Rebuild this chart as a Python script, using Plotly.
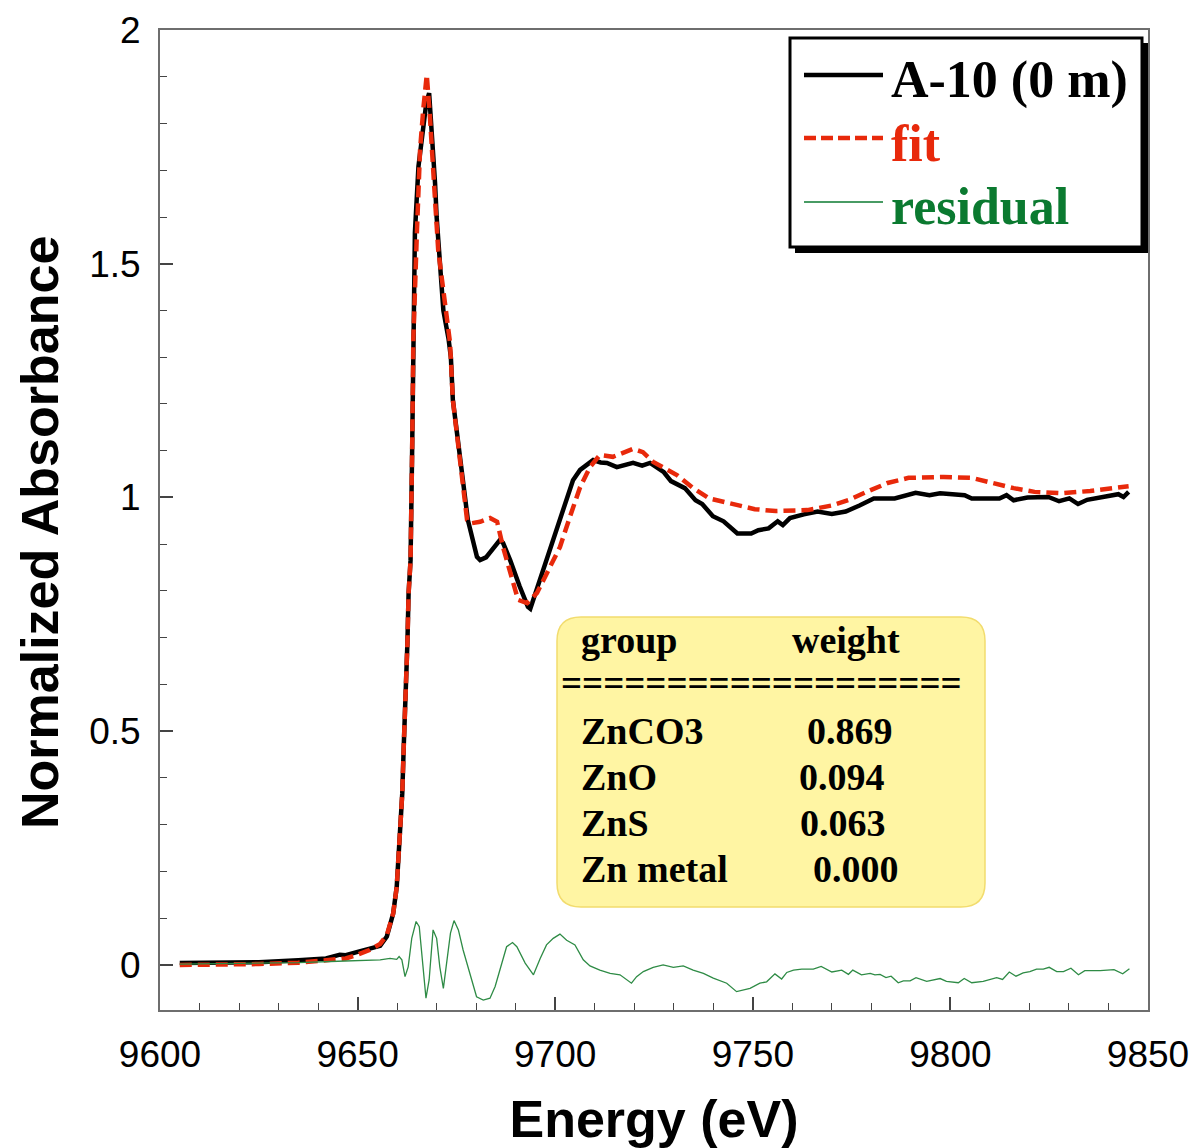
import plotly.graph_objects as go

# ---------------- data ----------------
data_energy = [9605, 9615, 9625, 9635, 9642, 9645.5, 9647, 9650, 9653, 9655.7, 9657.4, 9659,
               9659.9, 9660.3, 9660.9, 9661.3, 9661.7, 9662.2, 9662.6, 9662.9, 9663.4, 9663.8,
               9664.1, 9664.5, 9665.4, 9666.6, 9667.4, 9668.1, 9668.7, 9669.6, 9670.0, 9670.9,
               9671.7, 9673.0, 9673.6, 9674.1, 9676.0, 9677.9, 9680.2, 9681.0, 9682.5, 9684.3,
               9686.0, 9686.8, 9688.6, 9691.0, 9693.1, 9693.7, 9694.4, 9696.2, 9698.7, 9701.2,
               9702.8, 9704.5, 9706.3, 9709.6, 9711.5, 9713.1, 9715.6, 9717.5, 9719.7, 9722.0,
               9724.0, 9727.5, 9729.3, 9732.8, 9735.5, 9737.2, 9739.9, 9742.6, 9746.1, 9749.6,
               9751.4, 9754.0, 9756.3, 9757.6, 9759.4, 9762.9, 9766.4, 9770.0, 9773.5, 9777.0,
               9780.6, 9785.9, 9791.2, 9794.7, 9797.4, 9803.6, 9805.4, 9812.4, 9814.2, 9816.0,
               9819.5, 9824.8, 9827.5, 9830.1, 9832.3, 9834.6, 9842.5, 9843.8, 9845.1]
data_abs = [0.004, 0.004, 0.006, 0.010, 0.014, 0.022, 0.021, 0.028, 0.036, 0.041, 0.061, 0.110,
            0.167, 0.225, 0.296, 0.367, 0.474, 0.581, 0.688, 0.795, 0.866, 1.100,
            1.352, 1.566, 1.708, 1.800, 1.845, 1.865, 1.793, 1.672, 1.600, 1.494,
            1.400, 1.340, 1.300, 1.209, 1.080, 0.952, 0.873, 0.866, 0.872, 0.892,
            0.909, 0.903, 0.866, 0.810, 0.766, 0.762, 0.780, 0.824, 0.888, 0.952,
            0.990, 1.037, 1.059, 1.080, 1.075, 1.074, 1.065, 1.070, 1.074, 1.068,
            1.074, 1.054, 1.035, 1.020, 0.994, 0.986, 0.960, 0.949, 0.923, 0.923,
            0.930, 0.934, 0.949, 0.941, 0.956, 0.964, 0.970, 0.965, 0.970, 0.983,
            0.998, 0.998, 1.010, 1.005, 1.009, 1.005, 0.998, 0.998, 1.005, 0.994,
            1.000, 1.001, 0.992, 0.998, 0.986, 0.995, 1.007, 1.001, 1.012]

fit_energy = [9605, 9615, 9625, 9635, 9642, 9647, 9650, 9653, 9655.7, 9657.4, 9659, 9659.9,
              9660.3, 9660.9, 9661.3, 9661.7, 9662.2, 9662.6, 9662.9, 9663.4, 9663.8, 9664.1,
              9665.0, 9665.8, 9666.6, 9667.5, 9668.3, 9669.2, 9669.6, 9670.4, 9672.1, 9673.4,
              9674.1, 9677.7, 9678.9, 9681.0, 9683.5, 9685.3, 9686.8, 9688.6, 9690.6, 9692.9,
              9695.4, 9697.9, 9701.2, 9703.7, 9706.3, 9708.8, 9711.3, 9714.6, 9719.7, 9722.2,
              9724.8, 9730.8, 9734.9, 9739.0, 9745.2, 9750.5, 9755.8, 9763.8, 9770.0, 9774.4,
              9778.8, 9784.1, 9789.4, 9798.3, 9805.4, 9810.7, 9816.0, 9821.3, 9828.3, 9835.4,
              9845.1]
fit_abs = [0.000, 0.000, 0.002, 0.005, 0.009, 0.014, 0.022, 0.032, 0.045, 0.064, 0.110, 0.167,
           0.225, 0.296, 0.367, 0.474, 0.581, 0.688, 0.795, 0.866, 1.100, 1.337,
           1.566, 1.743, 1.829, 1.904, 1.815, 1.708, 1.636, 1.529, 1.416, 1.330,
           1.209, 0.952, 0.945, 0.948, 0.956, 0.948, 0.894, 0.838, 0.781, 0.774,
           0.796, 0.838, 0.894, 0.958, 1.022, 1.065, 1.091, 1.087, 1.104, 1.097,
           1.076, 1.048, 1.020, 0.998, 0.986, 0.975, 0.971, 0.973, 0.983, 0.995,
           1.012, 1.031, 1.042, 1.044, 1.042, 1.031, 1.020, 1.012, 1.009, 1.014,
           1.024]

res_energy = [9605, 9620, 9635, 9645, 9650, 9655.7, 9658.2, 9659.9, 9660.5, 9661.2, 9662.0, 9662.8,
              9663.7, 9664.8, 9665.6, 9666.5, 9667.3, 9668.1, 9669.1, 9670.0, 9670.8, 9671.7,
              9672.5, 9673.5, 9674.4, 9675.5, 9676.7, 9678.4, 9680.1, 9681.8, 9683.5, 9684.8,
              9686.5, 9687.7, 9689.2, 9690.3, 9692.4, 9693.6, 9694.5, 9696.2, 9697.8, 9699.5,
              9701.2, 9702.9, 9705.0, 9707.1, 9708.8, 9711.3, 9713.9, 9716.4, 9719.3, 9720.6,
              9722.3, 9724.8, 9727.3, 9729.9, 9732.4, 9734.9, 9737.5, 9740.0, 9743.4, 9745.9,
              9749.3, 9751.8, 9753.5, 9755.6, 9757.3, 9758.6, 9760.3, 9762.4, 9765.3, 9767.3,
              9770.0, 9772.5, 9774.2, 9775.3, 9777.5, 9779.7, 9780.9, 9782.2, 9783.7, 9785.0,
              9786.8, 9788.1, 9789.8, 9791.3, 9794.0, 9797.4, 9799.0, 9802.0, 9803.5, 9805.4,
              9808.3, 9811.7, 9813.2, 9814.9, 9816.6, 9818.4, 9820.1, 9821.8, 9823.5, 9825.0,
              9826.9, 9828.6, 9830.5, 9832.4, 9834.0, 9837.9, 9841.4, 9843.6, 9845.3]
res_val = [0.002, 0.003, 0.005, 0.008, 0.010, 0.011, 0.014, 0.012, 0.018, 0.011, -0.025, -0.004,
           0.057, 0.093, 0.082, 0.004, -0.071, -0.032, 0.075, 0.057, -0.004, -0.050,
           0.004, 0.068, 0.095, 0.075, 0.032, -0.018, -0.068, -0.075, -0.071, -0.046,
           0.004, 0.039, 0.048, 0.039, 0.004, -0.011, -0.021, 0.014, 0.043, 0.057,
           0.066, 0.053, 0.043, 0.011, -0.002, -0.011, -0.018, -0.021, -0.039, -0.025,
           -0.014, -0.005, 0.000, -0.005, -0.002, -0.011, -0.018, -0.028, -0.039, -0.057,
           -0.050, -0.039, -0.036, -0.019, -0.030, -0.016, -0.011, -0.009, -0.009, -0.003,
           -0.015, -0.011, -0.020, -0.011, -0.021, -0.018, -0.021, -0.020, -0.027, -0.024,
           -0.038, -0.034, -0.034, -0.027, -0.035, -0.029, -0.035, -0.038, -0.029, -0.038,
           -0.035, -0.027, -0.031, -0.015, -0.024, -0.017, -0.014, -0.009, -0.009, -0.005,
           -0.014, -0.014, -0.007, -0.021, -0.012, -0.012, -0.010, -0.019, -0.008]

series_names = ["A-10 (0 m)", "fit", "residual"]
table_groups = ["ZnCO3", "ZnO", "ZnS", "Zn metal"]
table_weights = ["0.869", "0.094", "0.063", "0.000"]
x_ticks = [9600, 9650, 9700, 9750, 9800, 9850]
y_ticks = [0, 0.5, 1, 1.5, 2]
y_tick_text = ["0", "0.5", "1", "1.5", "2"]
x_title = "Energy (eV)"
y_title = "Normalized Absorbance"

# ---------------- styling ----------------
BLACK = "#000000"
RED = "#e8290b"
GREEN_LINE = "#2e8b45"
GREEN_TEXT = "#0b7a30"
AXIS_GREY = "#6e6e6e"

L, R, T, B = 160, 1148, 30, 1010


def pxx(x):
    return (x - L) / (R - L)


def pxy(y):
    return (B - y) / (B - T)


fig = go.Figure()
fig.add_trace(go.Scatter(x=data_energy, y=data_abs, mode="lines", name=series_names[0],
                         line=dict(color=BLACK, width=4.5), showlegend=False))
fig.add_trace(go.Scatter(x=fit_energy, y=fit_abs, mode="lines", name=series_names[1],
                         line=dict(color=RED, width=4.5, dash="12px,6px"), showlegend=False))
fig.add_trace(go.Scatter(x=res_energy, y=res_val, mode="lines", name=series_names[2],
                         line=dict(color=GREEN_LINE, width=1.3), showlegend=False))

shapes = []
annotations = []

# ---- legend box (manual) ----
shapes.append(dict(type="rect", xref="paper", yref="paper",
                   x0=pxx(795), x1=pxx(1148), y0=pxy(253), y1=pxy(43),
                   fillcolor="black", line=dict(width=0)))
shapes.append(dict(type="rect", xref="paper", yref="paper",
                   x0=pxx(790), x1=pxx(1142), y0=pxy(247), y1=pxy(38),
                   fillcolor="white", line=dict(color="black", width=3)))
legend_rows = [(75, BLACK, 4.5, "solid", BLACK, 80),
               (138, RED, 4.5, "12px,5px", RED, 144),
               (202, GREEN_TEXT, 1.5, "solid", GREEN_TEXT, 207)]
for (ly, lc, lw, ld, tc, ty), name in zip(legend_rows, series_names):
    shapes.append(dict(type="line", xref="paper", yref="paper",
                       x0=pxx(804), x1=pxx(883), y0=pxy(ly), y1=pxy(ly),
                       line=dict(color=lc, width=lw, dash=ld)))
    annotations.append(dict(xref="paper", yref="paper", x=pxx(889), y=pxy(ty),
                            xanchor="left", yanchor="middle", showarrow=False,
                            text=name,
                            font=dict(family="Liberation Serif", size=52, color=tc, weight="bold")))

# ---- rounded yellow table box ----
bx0, bx1, by0, by1, rr = 557, 985, 617, 907, 24


def P(x, y):
    return f"{pxx(x):.6f},{pxy(y):.6f}"


path = (f"M {P(bx0 + rr, by0)} L {P(bx1 - rr, by0)} Q {P(bx1, by0)} {P(bx1, by0 + rr)} "
        f"L {P(bx1, by1 - rr)} Q {P(bx1, by1)} {P(bx1 - rr, by1)} "
        f"L {P(bx0 + rr, by1)} Q {P(bx0, by1)} {P(bx0, by1 - rr)} "
        f"L {P(bx0, by0 + rr)} Q {P(bx0, by0)} {P(bx0 + rr, by0)} Z")
shapes.append(dict(type="path", xref="paper", yref="paper", path=path,
                   fillcolor="#fff5a3", line=dict(color="#f2dc6e", width=1.5)))

tfont = dict(family="Liberation Serif", size=38, color="black", weight="bold")
annotations.append(dict(xref="paper", yref="paper", x=pxx(579), y=pxy(640), xanchor="left",
                        yanchor="middle", showarrow=False, text="group", font=tfont))
annotations.append(dict(xref="paper", yref="paper", x=pxx(790), y=pxy(640), xanchor="left",
                        yanchor="middle", showarrow=False, text="weight", font=tfont))
annotations.append(dict(xref="paper", yref="paper", x=pxx(559), y=pxy(683), xanchor="left",
                        yanchor="middle", showarrow=False, text="=" * 19,
                        font=dict(family="Liberation Serif", size=37, color="black", weight="bold")))
row_y = [731, 777, 823, 869]
w_x = [805, 797, 798, 811]
for g, w, yy, wx in zip(table_groups, table_weights, row_y, w_x):
    annotations.append(dict(xref="paper", yref="paper", x=pxx(579), y=pxy(yy), xanchor="left",
                            yanchor="middle", showarrow=False, text=g, font=tfont))
    annotations.append(dict(xref="paper", yref="paper", x=pxx(wx), y=pxy(yy), xanchor="left",
                            yanchor="middle", showarrow=False, text=w, font=tfont))

tick_font = dict(family="Liberation Sans", size=37, color="black")
title_font = dict(family="Liberation Sans", size=52, color="black", weight="bold")

# y-axis title as a rotated annotation (sits slightly below the plot centre in the reference)
annotations.append(dict(xref="paper", yref="paper", x=pxx(40), y=pxy(533), xanchor="center",
                        yanchor="middle", showarrow=False, text=y_title, textangle=-90,
                        font=title_font))

fig.update_layout(
    width=1198, height=1148,
    margin=dict(l=L, r=1198 - R, t=T, b=1148 - B, autoexpand=False),
    paper_bgcolor="white", plot_bgcolor="white",
    showlegend=False,
    shapes=shapes, annotations=annotations,
    xaxis=dict(range=[9600, 9850], tickvals=x_ticks, ticktext=[str(v) for v in x_ticks],
               ticks="inside", ticklen=13, tickwidth=1.5, tickcolor="#444",
               minor=dict(dtick=10, tick0=9600, ticks="inside", ticklen=7, tickwidth=1.2, tickcolor="#444"),
               showline=True, linecolor=AXIS_GREY, linewidth=2, mirror=True,
               showgrid=False, zeroline=False, tickfont=tick_font, ticklabelstandoff=11,
               title=dict(text=x_title, font=title_font, standoff=26)),
    yaxis=dict(range=[-0.0963, 2.0], tickvals=y_ticks, ticktext=y_tick_text,
               ticks="inside", ticklen=13, tickwidth=1.5, tickcolor="#444",
               minor=dict(dtick=0.1, tick0=0, ticks="inside", ticklen=7, tickwidth=1.2, tickcolor="#444"),
               showline=True, linecolor=AXIS_GREY, linewidth=2, mirror=True,
               showgrid=False, zeroline=False, tickfont=tick_font, ticklabelstandoff=10),
)

fig.write_html("out.html")
